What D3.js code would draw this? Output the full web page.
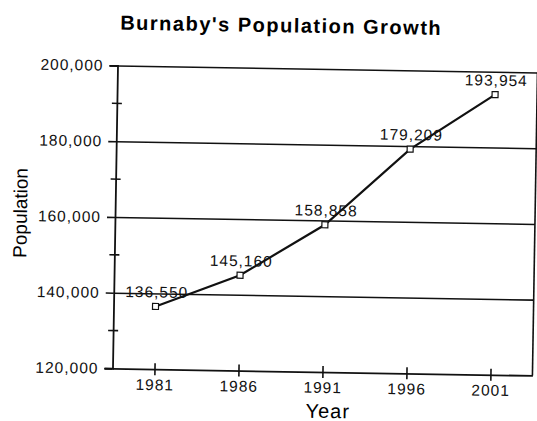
<!DOCTYPE html>
<html>
<head>
<meta charset="utf-8">
<script src="https://cdn.jsdelivr.net/npm/d3@7"></script>
<style>
  body { margin: 0; background: #fff; }
  svg { display: block; font-family: "Liberation Sans", Arial, sans-serif; }
</style>
</head>
<body>
<div id="chart"></div>
<script>
const years = ['1981', '1986', '1991', '1996', '2001']
const population = [136550, 145160, 158858, 179209, 193954]
const majorTicks = [120000, 140000, 160000, 180000, 200000]
const minorTicks = [130000, 150000, 170000, 190000]

const width = 537
const height = 421
const margin = { top: 68, right: 2, bottom: 50, left: 115 }
const innerW = width - margin.left - margin.right
const innerH = height - margin.top - margin.bottom

const svg = d3
  .select('#chart')
  .append('svg')
  .attr('width', width)
  .attr('height', height)

// scanned page is turned about a degree clockwise
const root = svg.append('g').attr('transform', 'rotate(0.95, 268, 218)')

const x = d3.scalePoint().domain(years).range([0, innerW]).padding(0.5)
const y = d3.scaleLinear().domain([120000, 200000]).range([innerH, 0])

// title
root
  .append('text')
  .attr('x', 278)
  .attr('y', 32)
  .attr('text-anchor', 'middle')
  .attr('font-size', 20)
  .attr('font-weight', 700)
  .attr('letter-spacing', 1.5)
  .text("Burnaby's Population Growth")

const g = root
  .append('g')
  .attr('transform', `translate(${margin.left},${margin.top})`)

// gridlines
g.append('g')
  .attr('class', 'grid')
  .call(d3.axisLeft(y).tickValues(majorTicks.slice(1)).tickSize(-innerW).tickFormat(''))
  .call((s) => s.select('.domain').remove())
  .selectAll('line')
  .attr('stroke', '#111')
  .attr('stroke-width', 1.6)

// right border
g.append('line')
  .attr('x1', innerW)
  .attr('x2', innerW)
  .attr('y1', 0)
  .attr('y2', innerH)
  .attr('stroke', '#111')
  .attr('stroke-width', 1.6)

// y axis
const yAxis = g
  .append('g')
  .call(d3.axisLeft(y).tickValues(majorTicks).tickSize(8).tickPadding(6).tickFormat(d3.format(',')))
yAxis.select('.domain').attr('stroke', '#111').attr('stroke-width', 1.8)
yAxis.selectAll('.tick line').attr('stroke', '#111').attr('stroke-width', 1.6)
yAxis
  .selectAll('.tick text')
  .attr('font-size', 15.5)
  .attr('letter-spacing', 1)
  .attr('fill', '#111')

// minor ticks crossing the y axis
g.append('g')
  .selectAll('line')
  .data(minorTicks)
  .join('line')
  .attr('x1', -5)
  .attr('x2', 5)
  .attr('y1', (d) => y(d))
  .attr('y2', (d) => y(d))
  .attr('stroke', '#111')
  .attr('stroke-width', 1.6)

// x axis
const xAxis = g
  .append('g')
  .attr('transform', `translate(0,${innerH})`)
  .call(d3.axisBottom(x).tickSize(6).tickPadding(4).tickSizeOuter(0))
xAxis.select('.domain').attr('stroke', '#111').attr('stroke-width', 1.8)
xAxis
  .selectAll('.tick line')
  .attr('y1', -6)
  .attr('stroke', '#111')
  .attr('stroke-width', 1.6)
xAxis
  .selectAll('.tick text')
  .attr('font-size', 15.5)
  .attr('letter-spacing', 1)
  .attr('fill', '#111')

// axis stub left of the corner
g.append('line')
  .attr('x1', -8)
  .attr('x2', 0)
  .attr('y1', innerH)
  .attr('y2', innerH)
  .attr('stroke', '#111')
  .attr('stroke-width', 1.6)

// axis titles
root
  .append('text')
  .attr('x', margin.left + innerW / 2 + 6)
  .attr('y', 417)
  .attr('text-anchor', 'middle')
  .attr('font-size', 20)
  .attr('letter-spacing', 1)
  .text('Year')

root
  .append('text')
  .attr('transform', 'translate(27,217) rotate(-90)')
  .attr('text-anchor', 'middle')
  .attr('font-size', 19)
  .text('Population')

// series
const series = years.map((yr, i) => ({ year: yr, value: population[i] }))

g.append('path')
  .datum(series)
  .attr('fill', 'none')
  .attr('stroke', '#111')
  .attr('stroke-width', 2.2)
  .attr('d', d3.line().x((d) => x(d.year)).y((d) => y(d.value)))

g.append('g')
  .selectAll('rect')
  .data(series)
  .join('rect')
  .attr('x', (d) => x(d.year) - 3)
  .attr('y', (d) => y(d.value) - 3)
  .attr('width', 6)
  .attr('height', 6)
  .attr('fill', '#fff')
  .attr('stroke', '#111')
  .attr('stroke-width', 1.2)

g.append('g')
  .selectAll('text')
  .data(series)
  .join('text')
  .attr('x', (d) => x(d.year) + 1)
  .attr('y', (d) => y(d.value) - 9)
  .attr('text-anchor', 'middle')
  .attr('font-size', 15.5)
  .attr('letter-spacing', 1)
  .attr('fill', '#111')
  .text((d) => d3.format(',')(d.value))
</script>
</body>
</html>
